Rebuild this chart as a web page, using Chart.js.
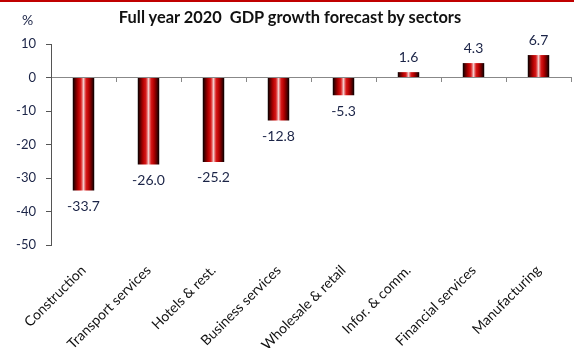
<!DOCTYPE html>
<html>
<head>
<meta charset="utf-8">
<script src="https://cdn.jsdelivr.net/npm/chart.js@4.4.1/dist/chart.umd.min.js"></script>
<style>
  html, body { margin: 0; padding: 0; background: #fff; }
  #wrap { position: relative; width: 574px; height: 348px; overflow: hidden; }
  #topline { position: absolute; left: 0; top: 0; width: 574px; height: 2px; background: #c00000; }
  #title { position: absolute; top: 7px; left: 0; width: 580px; text-align: center; font: bold 16.4px Lato; color: #111; white-space: nowrap; }
  #unit { position: absolute; top: 11px; left: 22px; font: 14px Lato; color: #1b2447; }
  canvas { position: absolute; left: 0; top: 0; }
</style>
</head>
<body>
<div id="wrap">
  <canvas id="chart" width="574" height="348"></canvas>
  <div id="topline"></div>
  <div id="title">Full year 2020 &nbsp;GDP growth forecast by sectors</div>
  <div id="unit">%</div>
</div>
<script>
const categories = ['Construction', 'Transport services', 'Hotels & rest.', 'Business services',
  'Wholesale & retail', 'Infor. & comm.', 'Financial services', 'Manufacturing'];
const growth = [-33.7, -26.0, -25.2, -12.8, -5.3, 1.6, 4.3, 6.7];
const yTicks = [10, 0, -10, -20, -30, -40, -50];

const BAR_PCT = 0.33;
const TEXT = '#1b2447';

// cylinder look: dark edges, red body, pale stripe in the middle
function barFill(ctx) {
  const chart = ctx.chart;
  const x = chart.scales.x;
  if (!chart.chartArea || ctx.dataIndex == null || !x) return '#c00000';
  const cx = x.getPixelForValue(ctx.dataIndex);
  const w = (x.getPixelForValue(1) - x.getPixelForValue(0)) * BAR_PCT;
  const g = chart.ctx.createLinearGradient(cx - w / 2, 0, cx + w / 2, 0);
  g.addColorStop(0, '#000000');
  g.addColorStop(0.1, '#500000');
  g.addColorStop(0.25, '#b40000');
  g.addColorStop(0.38, '#d81a1a');
  g.addColorStop(0.5, '#f4c8c8');
  g.addColorStop(0.62, '#d81a1a');
  g.addColorStop(0.75, '#b40000');
  g.addColorStop(0.9, '#500000');
  g.addColorStop(1, '#000000');
  return g;
}

const valueLabels = {
  id: 'valueLabels',
  afterDatasetsDraw(chart) {
    const { ctx } = chart;
    const meta = chart.getDatasetMeta(0);
    ctx.save();
    ctx.font = '14px Lato';
    ctx.fillStyle = TEXT;
    ctx.textAlign = 'center';
    ctx.textBaseline = 'middle';
    meta.data.forEach((bar, i) => {
      const v = growth[i];
      ctx.fillText(v.toFixed(1), bar.x, v < 0 ? bar.y + 16 : bar.y - 15);
    });
    ctx.restore();
  }
};

new Chart(document.getElementById('chart'), {
  type: 'bar',
  data: {
    labels: categories,
    datasets: [{
      data: growth,
      backgroundColor: barFill,
      borderWidth: 0,
      barPercentage: BAR_PCT,
      categoryPercentage: 1,
    }],
  },
  options: {
    responsive: false,
    animation: false,
    layout: { padding: { top: 44, right: 3, left: 0, bottom: 0 } },
    plugins: { legend: { display: false }, title: { display: false }, tooltip: { enabled: false } },
    scales: {
      x: {
        type: 'category',
        position: 'bottom',
        offset: true,
        afterFit: s => { s.height = 103; },
        grid: { display: false },
        border: { display: false },
        ticks: {
          autoSkip: false,
          minRotation: 45,
          maxRotation: 45,
          padding: 9,
          color: '#111',
          font: { family: 'Lato', size: 14 },
        },
      },
      xz: {
        type: 'category',
        labels: categories,
        position: { y: 0 },
        offset: true,
        grid: { offset: true, drawOnChartArea: false, drawTicks: true, tickLength: 4, color: '#888' },
        border: { display: true, color: '#888', width: 1 },
        ticks: { display: false },
      },
      y: {
        min: Math.min(...yTicks),
        max: Math.max(...yTicks),
        afterBuildTicks: s => { s.ticks = yTicks.map(v => ({ value: v })); },
        afterFit: s => { s.width = 51; },
        grid: { drawOnChartArea: false, drawTicks: true, tickLength: 5, color: '#555' },
        border: { display: true, color: '#555', width: 1 },
        ticks: { padding: 10, color: TEXT, font: { family: 'Lato', size: 13 } },
      },
    },
  },
  plugins: [valueLabels],
});
</script>
</body>
</html>
